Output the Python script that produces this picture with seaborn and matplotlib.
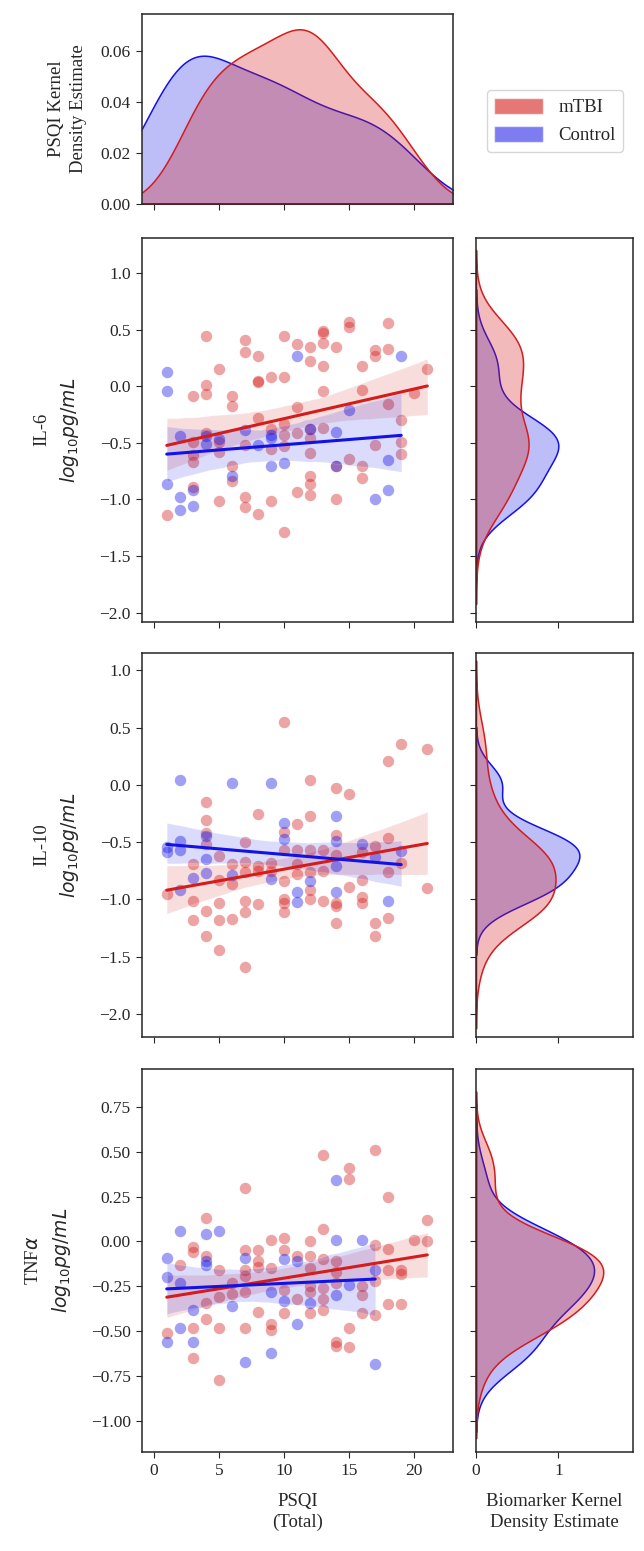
import numpy as np
import pandas as pd
import seaborn as sns
import matplotlib.pyplot as plt
from matplotlib.patches import Patch

# colours for the two groups
mtbi_color = '#d41c1c'
ctrl_color = '#1212e6'
groups = ['mTBI', 'Control']

# IL-6 (log10 pg/mL) vs PSQI total
il6_mtbi_x = [1, 3, 3, 3, 3, 3, 4, 4, 4, 4, 5, 5, 5, 5, 6, 6, 6, 6, 7, 7, 7, 7, 7,
              8, 8, 8, 8, 8, 9, 9, 9, 9, 10, 10, 10, 10, 10, 10, 11, 11, 11, 11,
              12, 12, 12, 12, 12, 12, 12, 12, 13, 13, 13, 13, 13, 13, 14, 14, 14,
              15, 15, 15, 16, 16, 16, 16, 17, 17, 17, 18, 18, 18, 19, 19, 19, 20, 21]
il6_mtbi_y = [-1.14, -0.09, -0.49, -0.61, -0.67, -0.89, 0.44, 0.01, -0.07, -0.41,
              0.15, -0.49, -0.58, -1.01, -0.09, -0.17, -0.70, -0.84, 0.41, 0.30, -0.52, -0.98, -1.07,
              0.27, 0.04, 0.05, -0.28, -1.13, 0.08, -0.38, -0.55, -1.01,
              0.44, 0.08, -0.33, -0.43, -0.53, -1.29, 0.37, -0.18, -0.41, -0.93,
              0.35, 0.22, -0.38, -0.46, -0.59, -0.79, -0.86, -0.96,
              0.49, 0.47, 0.38, 0.18, -0.04, -0.37, 0.35, -0.70, -1.00,
              0.57, 0.52, -0.64, 0.18, -0.03, -0.70, -0.81, 0.32, 0.27, -0.52,
              0.56, 0.33, -0.16, -0.30, -0.49, -0.60, -0.06, 0.15]
il6_ctrl_x = [1, 1, 1, 2, 2, 2, 3, 3, 4, 4, 5, 6, 7, 8, 9, 9, 9, 10, 11, 12, 14, 14,
              15, 17, 18, 18, 19]
il6_ctrl_y = [0.13, -0.04, -0.86, -0.44, -0.98, -1.09, -0.92, -1.06, -0.44, -0.51,
              -0.47, -0.79, -0.39, -0.52, -0.43, -0.46, -0.70, -0.68, 0.27, -0.38,
              -0.40, -0.70, -0.21, -1.00, -0.65, -0.92, 0.27]

# IL-10
il10_mtbi_x = [1, 3, 3, 3, 4, 4, 4, 4, 4, 4, 5, 5, 5, 5, 5, 6, 6, 6, 7, 7, 7, 7, 7, 7,
               8, 8, 8, 8, 9, 9, 10, 10, 10, 10, 10, 10, 10, 11, 11, 11, 11,
               12, 12, 12, 12, 12, 12, 13, 13, 13, 14, 14, 14, 14, 14, 14, 15, 15,
               16, 16, 16, 16, 17, 17, 17, 18, 18, 18, 18, 19, 19, 21, 21]
il10_mtbi_y = [-0.95, -0.69, -1.01, -1.18, -0.15, -0.31, -0.42, -0.52, -1.10, -1.32,
               -0.62, -0.83, -1.03, -1.18, -1.44, -0.69, -0.87, -1.17,
               -0.50, -0.67, -0.76, -1.01, -1.11, -1.59, -0.25, -0.71, -0.75, -1.04,
               -0.68, -0.75, 0.55, -0.41, -0.57, -0.84, -1.00, -1.03, -1.11,
               -0.34, -0.57, -0.69, -0.78, 0.04, -0.27, -0.57, -0.76, -0.92, -1.00,
               -0.57, -0.75, -1.01, -0.03, -0.44, -0.61, -1.03, -1.06, -1.21,
               -0.08, -0.89, -0.59, -0.83, -0.98, -1.03, -0.53, -1.21, -1.32,
               0.21, -0.46, -0.76, -1.16, 0.36, -0.68, 0.31, -0.90]
il10_ctrl_x = [1, 1, 2, 2, 2, 2, 3, 4, 4, 4, 6, 6, 9, 9, 10, 10, 11, 11, 12, 14, 14,
               14, 14, 16, 17, 18, 19]
il10_ctrl_y = [-0.54, -0.59, 0.04, -0.49, -0.57, -0.92, -0.81, -0.45, -0.65, -0.77,
               0.02, -0.79, 0.02, -0.82, -0.33, -0.47, -0.94, -1.02, -0.84, -0.27,
               -0.49, -0.71, -0.94, -0.52, -0.63, -1.01, -0.58]

# TNF-alpha
tnf_mtbi_x = [1, 2, 3, 3, 3, 3, 4, 4, 4, 4, 5, 5, 5, 5, 6, 6, 7, 7, 7, 7, 7, 7,
              8, 8, 8, 8, 9, 9, 9, 9, 10, 10, 10, 10, 11, 11, 12, 12, 12, 12, 12, 12,
              13, 13, 13, 13, 13, 13, 14, 14, 14, 14, 14, 15, 15, 15, 15, 16, 16, 16,
              17, 17, 17, 17, 18, 18, 18, 18, 19, 19, 19, 20, 21, 21]
tnf_mtbi_y = [-0.51, -0.13, -0.03, -0.06, -0.48, -0.65, 0.13, -0.08, -0.34, -0.43,
              -0.16, -0.31, -0.48, -0.77, -0.23, -0.29, 0.30, -0.05, -0.16, -0.19, -0.28, -0.48,
              -0.05, -0.11, -0.14, -0.39, 0.01, -0.15, -0.46, -0.49, 0.02, -0.05, -0.27, -0.40,
              -0.08, -0.32, 0.00, -0.08, -0.15, -0.25, -0.28, -0.40,
              0.48, 0.07, -0.10, -0.26, -0.32, -0.38, -0.11, -0.17, -0.23, -0.56, -0.58,
              0.41, 0.35, -0.48, -0.59, -0.25, -0.30, -0.40, 0.51, -0.02, -0.22, -0.41,
              0.25, -0.04, -0.16, -0.35, -0.16, -0.18, -0.35, 0.01, 0.12, 0.00]
tnf_ctrl_x = [1, 1, 1, 2, 2, 2, 3, 3, 4, 4, 4, 5, 6, 7, 7, 9, 9, 10, 10, 11, 11, 12,
              14, 14, 14, 15, 16, 17, 17]
tnf_ctrl_y = [-0.09, -0.20, -0.56, 0.06, -0.23, -0.48, -0.38, -0.56, 0.04, -0.11,
              -0.13, 0.06, -0.36, -0.09, -0.67, -0.28, -0.62, -0.10, -0.33, -0.11,
              -0.46, -0.34, 0.34, 0.01, -0.30, -0.24, 0.01, -0.16, -0.68]

panels = [
    ('IL-6\n$log_{10}pg/mL$', il6_mtbi_x, il6_mtbi_y, il6_ctrl_x, il6_ctrl_y,
     [1.0, 0.5, 0.0, -0.5, -1.0, -1.5, -2.0], (-2.08, 1.31), '{:.1f}'),
    ('IL-10\n$log_{10}pg/mL$', il10_mtbi_x, il10_mtbi_y, il10_ctrl_x, il10_ctrl_y,
     [1.0, 0.5, 0.0, -0.5, -1.0, -1.5, -2.0], (-2.2, 1.15), '{:.1f}'),
    ('TNF$\\alpha$\n$log_{10}pg/mL$', tnf_mtbi_x, tnf_mtbi_y, tnf_ctrl_x, tnf_ctrl_y,
     [0.75, 0.5, 0.25, 0.0, -0.25, -0.5, -0.75, -1.0], (-1.17, 0.96), '{:.2f}'),
]

sns.set_style('ticks')
plt.rcParams['font.family'] = ['Liberation Serif', 'DejaVu Serif']
plt.rcParams['xtick.labelsize'] = 12.5
plt.rcParams['ytick.labelsize'] = 12.5
plt.rcParams['axes.linewidth'] = 1.1
plt.rcParams['xtick.major.size'] = 4.5
plt.rcParams['ytick.major.size'] = 4.5

W, H = 644, 1551
fig = plt.figure(figsize=(W / 100, H / 100), dpi=100)


def box(left, top, right, bottom):
    return [left / W, 1 - bottom / H, (right - left) / W, (bottom - top) / H]


xlim = (-0.9, 22.95)
lab_size = 13.5

# top marginal KDE of PSQI
ax_top = fig.add_axes(box(142, 14, 452.7, 204))
sns.kdeplot(x=il6_ctrl_x, ax=ax_top, fill=True, color=ctrl_color, alpha=0.28, linewidth=1.1)
sns.kdeplot(x=il6_mtbi_x, ax=ax_top, fill=True, color=mtbi_color, alpha=0.3, linewidth=1.1)
ax_top.set_xlim(xlim)
ax_top.set_ylim(0, 0.0745)
ax_top.set_yticks([0.0, 0.02, 0.04, 0.06])
ax_top.set_xticks([0, 5, 10, 15, 20])
ax_top.set_xticklabels([])
ax_top.set_ylabel('PSQI Kernel\nDensity Estimate', fontsize=lab_size, labelpad=10,
                  linespacing=1.35)

rows = [(238, 621.7), (653.3, 1036.7), (1069, 1451.7)]
for i, (label, mx, my, cx, cy, yticks, ylim, fmt) in enumerate(panels):
    top, bottom = rows[i]
    ax = fig.add_axes(box(142, top, 452.7, bottom))
    for x, y, c in [(mx, my, mtbi_color), (cx, cy, ctrl_color)]:
        sns.regplot(x=x, y=y, ax=ax, color=c, seed=0,
                    scatter_kws={'s': 68, 'alpha': 0.4, 'linewidths': 0},
                    line_kws={'linewidth': 2.2})
    ax.set_xlim(xlim)
    ax.set_ylim(ylim)
    ax.set_xticks([0, 5, 10, 15, 20])
    ax.set_yticks(yticks)
    ax.set_yticklabels([fmt.format(t).replace('-', '\u2212') for t in yticks])
    ax.set_ylabel(label, fontsize=lab_size, multialignment='center', labelpad=13,
                  linespacing=1.45)
    if i < 2:
        ax.set_xticklabels([])
    else:
        ax.set_xlabel('PSQI\n(Total)', fontsize=lab_size, labelpad=10, linespacing=1.3)

    ax_r = fig.add_axes(box(476, top, 632.7, bottom))
    sns.kdeplot(y=cy, ax=ax_r, fill=True, color=ctrl_color, alpha=0.28, linewidth=1.1)
    sns.kdeplot(y=my, ax=ax_r, fill=True, color=mtbi_color, alpha=0.3, linewidth=1.1)
    ax_r.set_ylim(ylim)
    ax_r.set_xlim(0, 1.9)
    ax_r.set_yticks(yticks)
    ax_r.set_yticklabels([])
    ax_r.set_ylabel('')
    ax_r.set_xticks([0, 1])
    if i < 2:
        ax_r.set_xticklabels([])
        ax_r.set_xlabel('')
    else:
        ax_r.set_xlabel('Biomarker Kernel\nDensity Estimate', fontsize=lab_size,
                        labelpad=10, linespacing=1.3)

handles = [Patch(facecolor=mtbi_color, alpha=0.6, label=groups[0]),
           Patch(facecolor=ctrl_color, alpha=0.55, label=groups[1])]
fig.legend(handles=handles, loc='center', bbox_to_anchor=(555 / W, 1 - 121 / H),
           fontsize=lab_size, handlelength=2.6, handleheight=1.0, frameon=True)

fig.savefig('out.png', dpi=100)
